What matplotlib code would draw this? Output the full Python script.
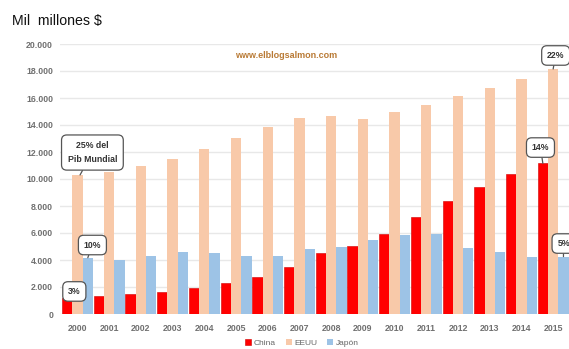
import matplotlib
matplotlib.use("Agg")
import matplotlib.pyplot as plt
import numpy as np

years = ["2000", "2001", "2002", "2003", "2004", "2005", "2006", "2007",
         "2008", "2009", "2010", "2011", "2012", "2013", "2014", "2015"]
china = [1150, 1330, 1460, 1650, 1950, 2270, 2770, 3490,
         4490, 5060, 5900, 7220, 8370, 9430, 10370, 11160]
eeuu = [10300, 10540, 10960, 11480, 12220, 13060, 13830, 14500,
        14690, 14440, 14940, 15510, 16150, 16770, 17410, 18150]
japon = [4170, 4000, 4300, 4620, 4540, 4330, 4330, 4810,
         4990, 5460, 5870, 5930, 4910, 4570, 4200, 4250]
series_names = ["China", "EEUU", "Japón"]
yticks = [0, 2000, 4000, 6000, 8000, 10000, 12000, 14000, 16000, 18000, 20000]
ytick_labels = ["0", "2.000", "4.000", "6.000", "8.000", "10.000", "12.000",
                "14.000", "16.000", "18.000", "20.000"]

plt.rcParams['font.family'] = ['Liberation Sans', 'DejaVu Sans']

W, H = 569, 349
fig = plt.figure(figsize=(W / 100, H / 100), dpi=100)
ax = fig.add_axes([60 / W, (H - 314) / H, 1 - 60 / W, (314 - 44) / H])

x = np.arange(len(years))
bw = 0.325
c_red, c_peach, c_blue = "#ff0000", "#f8c9a9", "#9dc3e6"
ax.bar(x - bw, china, bw, color=c_red, edgecolor="#d00000", linewidth=0.4,
       label=series_names[0], zorder=3)
ax.bar(x, eeuu, bw, color=c_peach, linewidth=0, label=series_names[1], zorder=3)
ax.bar(x + bw, japon, bw, color=c_blue, linewidth=0, label=series_names[2], zorder=3)

ax.set_xlim(-0.552, 15.5)
ax.set_ylim(0, 20000)
ax.set_yticks(yticks)
ax.set_yticklabels(ytick_labels)
ax.set_xticks(x)
ax.set_xticklabels(years)
ax.tick_params(axis="both", length=0, colors="#666666", labelsize=6.3)
ax.tick_params(axis="y", pad=5)
ax.tick_params(axis="x", pad=7)
for lab in ax.get_yticklabels() + ax.get_xticklabels():
    lab.set_fontweight("bold")
    lab.set_color("#707070")
ax.grid(axis="y", color="#e8e8e8", linewidth=1.0, zorder=0)
for s in ax.spines.values():
    s.set_visible(False)

# title and watermark
fig.text(12 / W, 1 - 21 / H, "Mil  millones $", fontsize=10.2, color="#111111",
         ha="left", va="center")
fig.text(286 / W, 1 - 56 / H, "www.elblogsalmon.com", fontsize=6.5,
         fontweight="bold", color="#b97a35", ha="center", va="center")

# callouts
def callout(text, xy, xytext, pad=0.6):
    ax.annotate(text, xy=xy, xytext=xytext, ha="center", va="center",
                fontsize=6.3, fontweight="bold", color="#333333",
                linespacing=1.7,
                bbox=dict(boxstyle=f"round,pad={pad},rounding_size=0.6",
                          fc="white", ec="#555555", lw=0.9),
                arrowprops=dict(arrowstyle="-", color="#555555", lw=0.9,
                                shrinkA=0, shrinkB=0),
                zorder=5, annotation_clip=False)

callout("25% del\nPib Mundial", (0.08, eeuu[0]), (0.47, 11960), pad=0.7)
callout("10%", (x[0] + bw, japon[0]), (0.47, 5110))
callout("3%", (x[0] - 0.2, china[0]), (-0.1, 1670))
callout("22%", (x[15], eeuu[15]), (15.08, 19150))
callout("14%", (x[15] - bw, china[15]), (14.6, 12330))
callout("5%", (x[15] + bw, japon[15]), (15.33, 5220))

leg = fig.legend(loc="center", bbox_to_anchor=(302 / W, 1 - 343 / H), ncol=3,
                 frameon=False, fontsize=6, handlelength=0.7, handleheight=0.7,
                 handletextpad=0.3, columnspacing=1.2)
for t in leg.get_texts():
    t.set_color("#666666")

fig.savefig("out.png", dpi=100)
